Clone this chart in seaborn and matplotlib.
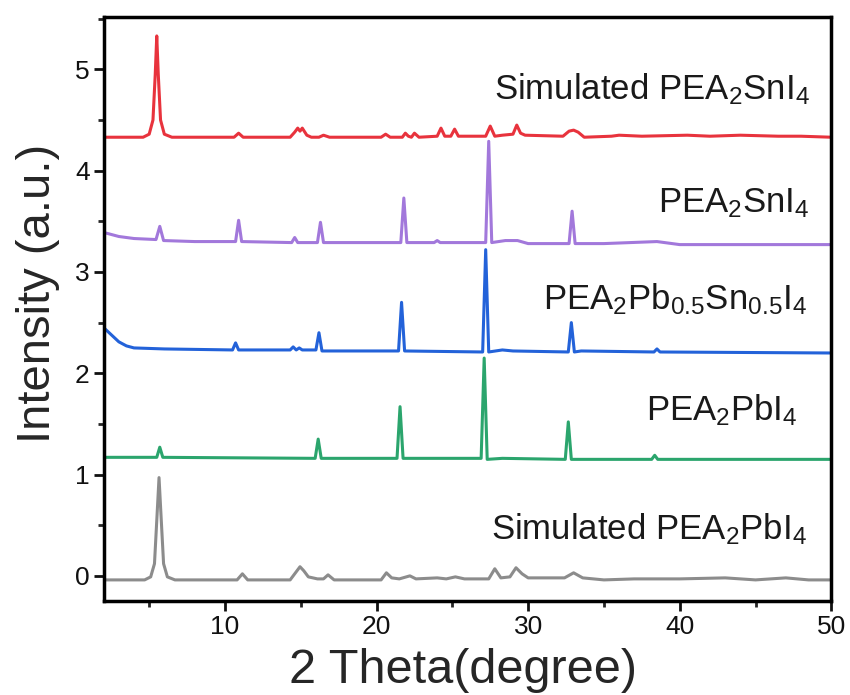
import matplotlib
matplotlib.use("Agg")
import matplotlib.pyplot as plt
from matplotlib.ticker import MultipleLocator
import seaborn as sns

# XRD patterns, (2theta, offset intensity) points per sample
sim_sn = [(2.0, 4.33), (4.6, 4.33), (5.0, 4.36), (5.25, 4.5), (5.4, 4.95), (5.5, 5.33), (5.6, 4.95),
          (5.75, 4.5), (6.0, 4.36), (6.5, 4.33), (10.6, 4.33), (10.9, 4.37), (11.2, 4.33), (14.3, 4.33),
          (14.6, 4.38), (14.8, 4.42), (14.95, 4.39), (15.1, 4.42), (15.4, 4.35), (15.7, 4.33), (16.2, 4.33),
          (16.5, 4.35), (16.9, 4.33), (20.3, 4.33), (20.6, 4.36), (20.9, 4.33), (21.7, 4.33), (21.9, 4.37),
          (22.1, 4.34), (22.3, 4.33), (22.5, 4.37), (22.8, 4.33), (24.0, 4.34), (24.25, 4.42), (24.5, 4.34),
          (24.9, 4.34), (25.15, 4.41), (25.4, 4.34), (27.2, 4.34), (27.5, 4.44), (27.8, 4.34), (28.3, 4.35),
          (29.0, 4.36), (29.25, 4.45), (29.5, 4.37), (29.8, 4.35), (32.3, 4.34), (32.7, 4.39), (33.0, 4.40),
          (33.3, 4.38), (33.7, 4.33), (35.5, 4.34), (36.0, 4.35), (37.5, 4.34), (40.5, 4.35), (42.0, 4.34),
          (44.0, 4.35), (46.5, 4.34), (48.0, 4.34), (50.0, 4.33)]

pea_sn = [(2.0, 3.39), (3.0, 3.35), (4.0, 3.33), (5.45, 3.32), (5.7, 3.45), (5.95, 3.31), (8.0, 3.30),
          (10.7, 3.30), (10.9, 3.51), (11.1, 3.30), (14.4, 3.29), (14.6, 3.34), (14.8, 3.29), (16.1, 3.29),
          (16.3, 3.49), (16.5, 3.29), (19.0, 3.29), (21.6, 3.29), (21.8, 3.73), (22.0, 3.29), (23.8, 3.29),
          (24.0, 3.31), (24.2, 3.29), (27.2, 3.29), (27.4, 4.29), (27.6, 3.29), (28.5, 3.31), (29.3, 3.31),
          (30.0, 3.28), (32.7, 3.28), (32.9, 3.60), (33.1, 3.28), (35.0, 3.28), (38.5, 3.30), (40.0, 3.27),
          (45.0, 3.27), (50.0, 3.27)]

pea_pbsn = [(2.0, 2.45), (2.5, 2.38), (3.0, 2.31), (3.5, 2.27), (4.0, 2.25), (6.0, 2.24), (10.5, 2.23),
            (10.7, 2.30), (10.9, 2.23), (14.3, 2.23), (14.5, 2.26), (14.7, 2.23), (14.9, 2.25), (15.1, 2.23),
            (16.0, 2.23), (16.2, 2.40), (16.4, 2.22), (21.45, 2.22), (21.65, 2.70), (21.85, 2.22), (27.0, 2.21),
            (27.2, 3.22), (27.4, 2.21), (28.3, 2.23), (29.0, 2.22), (32.65, 2.21), (32.85, 2.50), (33.05, 2.21),
            (33.5, 2.22), (38.3, 2.21), (38.5, 2.24), (38.7, 2.21), (50.0, 2.20)]

pea_pb = [(2.0, 1.17), (5.5, 1.17), (5.7, 1.27), (5.9, 1.17), (15.95, 1.16), (16.15, 1.35), (16.35, 1.16),
          (21.35, 1.16), (21.55, 1.67), (21.75, 1.16), (26.9, 1.16), (27.1, 2.15), (27.3, 1.15), (28.3, 1.16),
          (32.45, 1.15), (32.65, 1.52), (32.85, 1.15), (38.15, 1.15), (38.35, 1.19), (38.55, 1.15), (50.0, 1.15)]

sim_pb = [(2.0, -0.04), (4.7, -0.04), (5.1, -0.01), (5.35, 0.12), (5.52, 0.6), (5.65, 0.97), (5.78, 0.6),
          (5.95, 0.12), (6.2, -0.01), (6.7, -0.04), (10.8, -0.04), (11.15, 0.02), (11.5, -0.04), (14.3, -0.04),
          (14.7, 0.04), (14.95, 0.09), (15.2, 0.05), (15.5, -0.01), (16.1, -0.03), (16.5, -0.03), (16.8, 0.01),
          (17.2, -0.04), (20.3, -0.04), (20.65, 0.03), (21.0, -0.02), (21.5, -0.03), (22.2, 0.0), (22.6, -0.03),
          (24.0, -0.02), (24.6, -0.03), (25.2, -0.01), (25.8, -0.03), (27.4, -0.03), (27.8, 0.07), (28.2, -0.02),
          (28.8, -0.01), (29.2, 0.08), (29.6, 0.02), (30.0, -0.02), (32.4, -0.02), (33.0, 0.03), (33.6, -0.02),
          (35.0, -0.04), (37.0, -0.03), (40.0, -0.03), (43.0, -0.02), (45.0, -0.04), (47.0, -0.02), (48.5, -0.04),
          (50.0, -0.04)]

series = [sim_sn, pea_sn, pea_pbsn, pea_pb, sim_pb]
colors = ["#e8333d", "#a278db", "#2362d9", "#2ba56d", "#8c8c8c"]
labels = [r"Simulated PEA$\mathregular{_2}$SnI$\mathregular{_4}$",
          r"PEA$\mathregular{_2}$SnI$\mathregular{_4}$",
          r"PEA$\mathregular{_2}$Pb$\mathregular{_{0.5}}$Sn$\mathregular{_{0.5}}$I$\mathregular{_4}$",
          r"PEA$\mathregular{_2}$PbI$\mathregular{_4}$",
          r"Simulated PEA$\mathregular{_2}$PbI$\mathregular{_4}$"]
label_x = [48.6, 48.6, 48.4, 47.8, 48.4]
label_y = [4.70, 3.59, 2.63, 1.54, 0.36]

sns.set_theme(style="ticks")
plt.rcParams["font.family"] = ["Liberation Sans", "DejaVu Sans"]
plt.rcParams["mathtext.fontset"] = "custom"
plt.rcParams["mathtext.rm"] = "Liberation Sans"

fig = plt.figure(figsize=(8.5, 6.95), dpi=100)
ax = fig.add_axes([0.122, 0.135, 0.856, 0.841])

for pts, col in zip(series, colors):
    xs = [p[0] for p in pts]
    ys = [p[1] for p in pts]
    sns.lineplot(x=xs, y=ys, ax=ax, color=col, linewidth=2.2, estimator=None, sort=False)

for lab, lx, ly in zip(labels, label_x, label_y):
    ax.text(lx, ly, lab, ha="right", va="baseline", fontsize=25, color="#1a1a1a")

ax.set_xlim(2, 50)
ax.set_ylim(-0.25, 5.52)
ax.xaxis.set_major_locator(MultipleLocator(10))
ax.xaxis.set_minor_locator(MultipleLocator(5))
ax.yaxis.set_major_locator(MultipleLocator(1))
ax.yaxis.set_minor_locator(MultipleLocator(0.5))
ax.tick_params(which="major", direction="out", length=7, width=2, labelsize=19, colors="#111111", pad=3)
ax.tick_params(which="minor", direction="out", length=4, width=2)
for sp in ax.spines.values():
    sp.set_linewidth(2.5)
    sp.set_color("#000000")

ax.set_xlabel("2 Theta(degree)", fontsize=35, va="baseline")
ax.set_ylabel("Intensity (a.u.)", fontsize=34)
ax.xaxis.set_label_coords(0.494, -0.140)
ax.yaxis.set_label_coords(-0.06, 0.527)

fig.savefig("out.png", dpi=100)
